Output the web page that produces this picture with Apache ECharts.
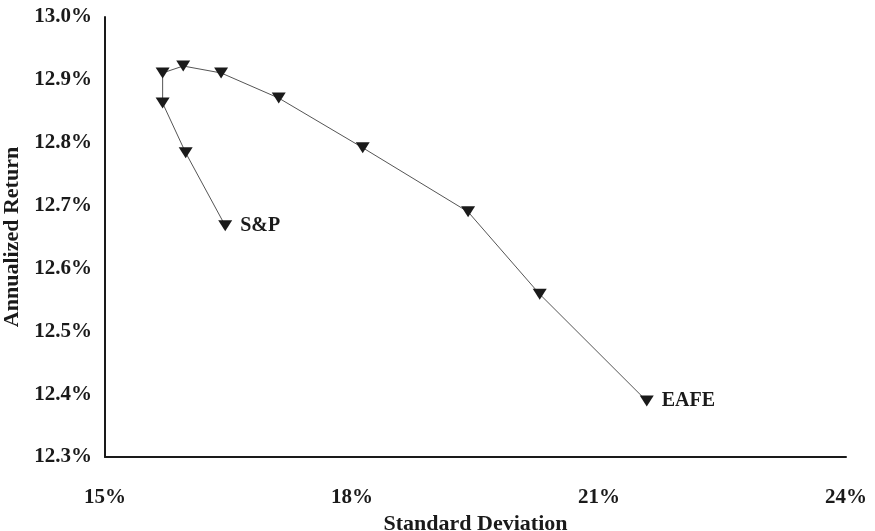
<!DOCTYPE html>
<html><head><meta charset="utf-8">
<script src="https://cdn.jsdelivr.net/npm/echarts@6/dist/echarts.min.js"></script>
<style>html,body{margin:0;padding:0;background:#fff}#c{width:875px;height:531px}</style>
</head><body><div id="c"></div>
<script>
const stdDev = [16.46, 15.98, 15.70, 15.70, 15.95, 16.41, 17.11, 18.13, 19.41, 20.28, 21.58];
const annReturn = [12.668, 12.784, 12.863, 12.911, 12.922, 12.911, 12.871, 12.792, 12.690, 12.559, 12.389];
const pointLabels = ['S&P', '', '', '', '', '', '', '', '', '', 'EAFE'];
const xTicks = [15, 18, 21, 24];
const yMin = 12.3, yMax = 13.0;

const FONT = '"Liberation Serif", "Times New Roman", serif';
const chart = echarts.init(document.getElementById('c'), null, {renderer: 'canvas'});
const data = stdDev.map((x, i) => ({
  value: [x, annReturn[i]],
  label: pointLabels[i] ? {show: true, formatter: pointLabels[i]} : {show: false}
}));
chart.setOption({
  animation: false,
  backgroundColor: '#fff',
  grid: {left: 105, right: 29, top: 17, bottom: 74, containLabel: false, outerBoundsMode: 'none'},
  xAxis: {
    type: 'value', min: xTicks[0], max: xTicks[xTicks.length - 1], interval: 3,
    name: 'Standard Deviation', nameLocation: 'middle', nameGap: 49,
    nameTextStyle: {fontFamily: FONT, fontWeight: 'bold', fontSize: 22, color: '#1a1a1a'},
    axisLine: {show: true, lineStyle: {color: '#1a1a1a', width: 2}},
    axisTick: {show: false}, splitLine: {show: false},
    axisLabel: {margin: 30, fontFamily: FONT, fontWeight: 'bold', fontSize: 21, color: '#1a1a1a', formatter: v => v + '%'}
  },
  yAxis: {
    type: 'value', min: yMin, max: yMax, interval: 0.1,
    name: 'Annualized Return', nameLocation: 'middle', nameGap: 78,
    nameTextStyle: {fontFamily: FONT, fontWeight: 'bold', fontSize: 22, color: '#1a1a1a'},
    axisLine: {show: true, lineStyle: {color: '#1a1a1a', width: 2}},
    axisTick: {show: false}, splitLine: {show: false},
    axisLabel: {margin: 13, fontFamily: FONT, fontWeight: 'bold', fontSize: 21, color: '#1a1a1a', formatter: v => v.toFixed(1) + '%'}
  },
  series: [{
    type: 'line', data: data,
    symbol: 'triangle', symbolRotate: 180, symbolSize: [14, 11],
    lineStyle: {color: '#555', width: 1},
    itemStyle: {color: '#1a1a1a'},
    label: {position: 'right', distance: 8, fontFamily: FONT, fontWeight: 'bold', fontSize: 20, color: '#1a1a1a'}
  }]
});
</script></body></html>
